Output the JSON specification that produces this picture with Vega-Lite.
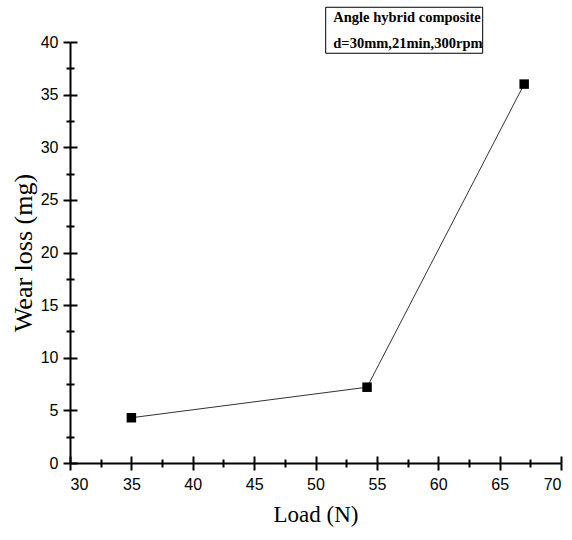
{
  "$schema": "https://vega.github.io/schema/vega-lite/v6.json",
  "width": 491,
  "height": 421,
  "autosize": {"type": "none"},
  "padding": {"left": 70, "top": 42, "right": 11, "bottom": 77},
  "background": "white",
  "config": {
    "view": {"stroke": null},
    "axis": {"grid": false, "domainColor": "black", "tickColor": "black", "labelColor": "black", "titleColor": "black"}
  },
  "datasets": {
    "wear": [
      {"load": 35, "wear": 4.3},
      {"load": 54.2, "wear": 7.2},
      {"load": 67, "wear": 36}
    ],
    "box": [
      {"x1": 50.83, "x2": 63.62, "y1": 38.93, "y2": 43.3}
    ],
    "note": [
      {"x": 51.45, "y": 41.93, "label": "Angle hybrid composite"},
      {"x": 51.45, "y": 39.41, "label": "d=30mm,21min,300rpm"}
    ]
  },
  "resolve": {"axis": {"x": "independent", "y": "independent"}},
  "layer": [
    {
      "data": {"name": "wear"},
      "mark": {"type": "line", "color": "#333333", "strokeWidth": 1},
      "encoding": {
        "x": {
          "field": "load", "type": "quantitative",
          "scale": {"domain": [30, 70], "nice": false, "zero": false},
          "axis": {
            "orient": "bottom", "title": "Load (N)", "values": [30, 35, 40, 45, 50, 55, 60, 65, 70],
            "tickSize": 7, "tickWidth": 2, "domainWidth": 2,
            "labelFont": "Liberation Sans", "labelFontSize": 16, "labelPadding": 6,
            "titleFont": "Liberation Serif", "titleFontSize": 23, "titleFontWeight": "normal", "titlePadding": 11
          }
        },
        "y": {
          "field": "wear", "type": "quantitative",
          "scale": {"domain": [0, 40], "nice": false, "zero": false},
          "axis": {
            "orient": "left", "title": "Wear loss (mg)", "values": [0, 5, 10, 15, 20, 25, 30, 35, 40],
            "tickSize": 7, "tickWidth": 2, "domainWidth": 2,
            "labelFont": "Liberation Sans", "labelFontSize": 16, "labelPadding": 5,
            "titleFont": "Liberation Serif", "titleFontSize": 26, "titleFontWeight": "normal", "titlePadding": 4
          }
        }
      }
    },
    {
      "data": {"name": "wear"},
      "mark": {"type": "square", "color": "black", "filled": true, "opacity": 1, "size": 90},
      "encoding": {
        "x": {
          "field": "load", "type": "quantitative",
          "scale": {"domain": [30, 70], "nice": false, "zero": false},
          "axis": {"orient": "bottom", "title": null, "labels": false, "domain": false,
                   "values": [30, 35, 40, 45, 50, 55, 60, 65, 70], "tickSize": -7, "tickWidth": 2}
        },
        "y": {
          "field": "wear", "type": "quantitative",
          "scale": {"domain": [0, 40], "nice": false, "zero": false},
          "axis": {"orient": "left", "title": null, "labels": false, "domain": false,
                   "values": [0, 5, 10, 15, 20, 25, 30, 35, 40], "tickSize": -7, "tickWidth": 2}
        }
      }
    },
    {
      "data": {"name": "box"},
      "mark": {"type": "rect", "fill": "white", "stroke": "black", "strokeWidth": 1},
      "encoding": {
        "x": {
          "field": "x1", "type": "quantitative",
          "scale": {"domain": [30, 70], "nice": false, "zero": false},
          "axis": {"orient": "bottom", "title": null, "labels": false, "domain": false,
                   "values": [32.5, 37.5, 42.5, 47.5, 52.5, 57.5, 62.5, 67.5], "tickSize": 4, "tickWidth": 2}
        },
        "x2": {"field": "x2"},
        "y": {
          "field": "y1", "type": "quantitative",
          "scale": {"domain": [0, 40], "nice": false, "zero": false},
          "axis": {"orient": "left", "title": null, "labels": false, "domain": false,
                   "values": [2.5, 7.5, 12.5, 17.5, 22.5, 27.5, 32.5, 37.5], "tickSize": 4, "tickWidth": 2}
        },
        "y2": {"field": "y2"}
      }
    },
    {
      "data": {"name": "note"},
      "mark": {"type": "text", "align": "left", "baseline": "alphabetic", "font": "Liberation Serif",
               "fontSize": 14.5, "fontWeight": "bold", "color": "black"},
      "encoding": {
        "x": {
          "field": "x", "type": "quantitative",
          "scale": {"domain": [30, 70], "nice": false, "zero": false},
          "axis": {"orient": "bottom", "title": null, "labels": false, "domain": false,
                   "values": [32.5, 37.5, 42.5, 47.5, 52.5, 57.5, 62.5, 67.5], "tickSize": -4, "tickWidth": 2}
        },
        "y": {
          "field": "y", "type": "quantitative",
          "scale": {"domain": [0, 40], "nice": false, "zero": false},
          "axis": {"orient": "left", "title": null, "labels": false, "domain": false,
                   "values": [2.5, 7.5, 12.5, 17.5, 22.5, 27.5, 32.5, 37.5], "tickSize": -4, "tickWidth": 2}
        },
        "text": {"field": "label"}
      }
    }
  ]
}
